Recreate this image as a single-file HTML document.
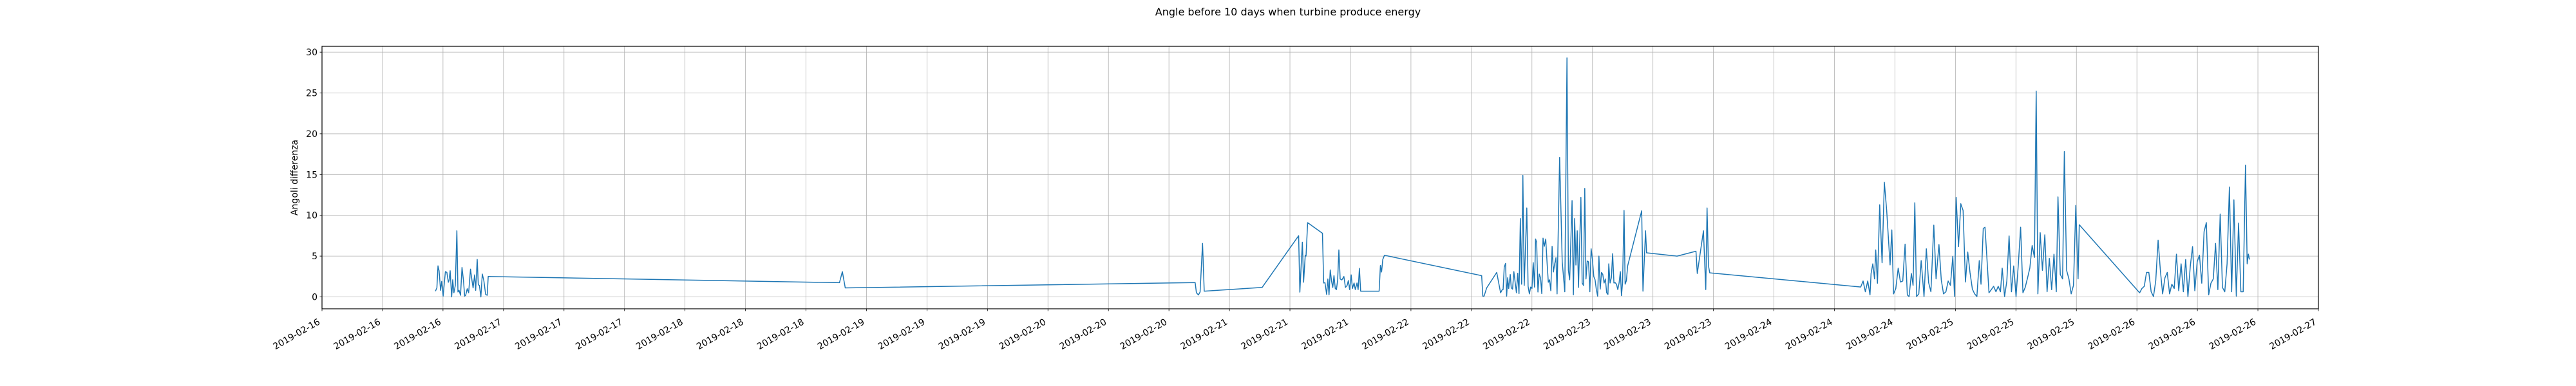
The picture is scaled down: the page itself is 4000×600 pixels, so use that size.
<!DOCTYPE html>
<html><head><meta charset="utf-8"><style>
html,body{margin:0;padding:0;background:#fff;}
svg{display:block;font-family:"DejaVu Sans","Liberation Sans",sans-serif;}
</style></head><body>
<svg id="chart" width="4000" height="600" viewBox="0 0 4000 600">
<rect width="4000" height="600" fill="#fff"/>
<text x="2000" y="24" text-anchor="middle" font-size="16" fill="#000">Angle before 10 days when turbine produce energy</text>
<g id="grid"></g>
<g id="series"></g>
<rect x="500" y="72" width="3100" height="408" fill="none" stroke="#000" stroke-width="1.2"/>
<g id="axes"></g>
<text transform="translate(462,276) rotate(-90)" text-anchor="middle" font-size="14" fill="#000">Angoli differenza</text>
</svg>
<script>
// hours since 2019-02-16 00:00
const hours = [15.0,15.19,15.34,15.48,15.68,15.83,16.02,16.32,16.51,16.71,16.80,16.95,17.14,17.29,17.44,17.63,17.83,17.98,18.12,18.32,18.51,18.71,18.86,19.00,19.20,19.39,19.64,19.83,19.98,20.18,20.32,20.52,20.67,20.81,21.01,21.20,21.40,21.64,21.84,21.98,
68.43,68.81,69.19,115.46,115.63,115.90,116.12,116.44,116.66,124.32,129.15,129.31,129.64,129.80,130.02,130.13,130.34,132.30,132.46,132.63,132.85,133.01,133.17,133.33,133.50,133.66,133.82,133.99,134.15,134.31,134.47,134.64,134.86,135.13,135.34,135.56,135.72,135.89,136.10,136.26,136.48,136.64,136.86,137.02,137.19,137.35,139.79,139.96,140.12,140.28,140.50,
153.35,153.50,153.67,154.01,155.34,155.85,156.08,156.19,156.34,156.51,156.65,156.79,156.93,157.13,157.27,157.44,157.61,157.78,157.95,158.12,158.29,158.47,158.64,158.80,158.98,159.32,159.49,159.66,159.83,160.00,160.17,160.34,160.48,160.62,160.79,160.96,161.13,161.30,161.47,161.64,161.82,161.99,162.16,162.33,162.50,162.67,162.84,163.01,163.18,163.32,163.66,164.00,164.34,164.63,164.82,164.99,165.31,165.48,165.65,165.82,165.99,166.16,166.47,166.64,166.81,166.98,167.15,167.32,167.49,167.66,167.83,168.00,168.18,168.35,168.52,168.69,168.86,169.03,169.20,169.37,169.54,169.71,169.88,170.05,170.16,170.33,170.50,170.67,170.84,171.01,171.18,171.35,171.52,171.69,171.84,171.98,172.18,172.32,172.49,172.66,174.51,174.68,175.02,175.16,179.19,181.69,181.86,182.68,182.99,183.16,183.34,183.51,
203.48,203.79,204.09,204.40,204.70,204.85,205.08,205.31,205.46,205.69,205.99,206.30,206.60,206.91,207.36,207.59,207.82,208.12,208.43,208.73,209.04,209.34,209.64,209.87,210.18,210.40,210.63,210.86,211.16,211.47,211.85,212.15,212.46,212.76,213.14,213.44,213.82,214.13,214.43,214.74,215.04,215.34,215.65,215.88,216.10,216.41,216.71,217.02,217.32,217.63,217.93,218.24,218.54,218.84,219.15,219.38,219.68,219.91,220.14,220.44,220.75,221.05,221.36,221.66,221.96,222.19,222.50,222.80,223.10,223.41,223.71,224.02,224.32,224.62,224.93,225.23,225.54,225.84,226.15,226.45,226.68,226.90,227.21,227.51,227.82,228.12,228.42,228.73,229.03,229.34,229.56,229.87,230.17,230.40,230.70,231.01,231.31,231.61,231.92,232.22,232.38,
240.36,240.67,240.97,241.27,241.58,241.88,242.19,242.49,242.80,243.10,243.40,243.71,244.01,244.32,244.62,244.93,245.23,245.53,245.84,246.14,246.45,246.75,247.06,247.36,247.66,247.97,248.27,248.58,248.88,249.18,249.49,249.79,250.10,250.40,250.71,251.01,251.31,251.62,251.92,252.23,252.53,252.83,253.14,253.44,253.75,254.05,254.36,254.58,254.74,254.89];
const angles = [0.7,1.1,3.8,3.2,0.8,1.9,0.1,3.1,3.0,1.8,2.0,3.2,0,2.1,0.5,1.4,8.1,0.6,0.8,0.2,3.6,2.0,0.1,0.2,1.0,0.5,3.4,2.0,1.1,2.7,0.8,4.6,1.5,1.4,0,2.8,2.0,0.3,0.2,2.5,
1.74,3.1,1.1,1.76,0.5,0.24,0.6,6.55,0.7,1.16,7.5,0.58,6.7,1.8,5.1,5.0,9.1,7.8,1.7,1.74,0.3,2.2,0.24,3.3,1.95,1.16,2.6,1.03,0.9,2.08,5.76,2.2,2.08,2.5,1.16,1.4,2.0,0.9,2.7,1.03,1.7,0.9,1.7,0.9,3.5,0.7,0.7,3.84,3.05,4.6,5.1,
2.6,0.1,0.1,1.1,3.0,0.5,0.9,0.9,3.66,4.1,0.1,2.34,1.03,2.74,1.1,0.95,3.1,1.8,0.5,2.9,0.4,9.6,1.55,14.9,1.4,10.9,1.3,0.37,1.2,1.03,4.2,1.2,7.1,6.7,0.6,2.8,2.34,0.4,7.2,6.2,7.1,4.3,1.8,2.1,0.76,6.2,3.05,4.05,4.8,0.37,17.1,4.3,0.63,29.3,3.26,2.1,11.8,0.24,9.6,3.9,8.1,1.16,12.2,1.7,1.4,13.3,2.2,4.4,4.3,0.63,5.9,4.6,2.5,2.1,0.9,0.1,5.0,0.95,3.0,2.74,1.7,2.2,0.5,0.3,4.05,1.7,2.34,5.3,1.7,1.74,1.55,0.9,1.7,3.1,0.16,1.7,10.6,1.55,2.0,3.8,10.55,0.7,8.1,5.4,5.0,5.6,2.87,8.1,0.9,10.9,3.8,2.95,
1.21,1.95,0.63,1.95,0.24,2.87,4.05,2.21,5.76,1.68,11.29,4.18,14.05,10.63,3.92,8.21,0.37,1.03,3.53,1.82,1.95,6.47,0.24,0.05,2.87,1.42,11.55,0.05,0.37,4.45,0.05,5.89,1.74,0.63,8.79,2.21,6.42,2.08,0.37,0.63,1.95,1.42,4.97,0.05,12.21,6.16,11.42,10.58,1.82,5.5,3.0,0.95,0.37,0.05,4.45,1.55,8.39,8.53,5.11,0.5,0.89,1.29,0.63,1.29,0.63,3.53,0.05,1.95,7.47,0.63,3.79,0.05,4.05,8.53,0.5,1.16,2.34,3.53,6.29,4.84,25.24,0.37,7.87,3.26,7.61,0.63,4.71,0.89,5.24,0.63,12.26,2.74,2.21,17.82,3.26,2.21,0.37,1.42,11.21,2.21,8.84,
0.5,1.03,1.29,3.0,3.0,0.63,0.05,1.95,6.95,3.26,0.37,2.34,3.0,0.37,1.55,1.03,5.24,0.76,4.05,0.63,4.58,0.05,3.79,6.16,0.76,4.32,5.11,1.68,8.0,9.11,0.24,1.68,2.21,6.55,0.89,10.16,1.16,0.63,4.05,13.47,0.63,11.89,0.1,9.05,0.63,0.63,16.16,4.05,5.24,4.58];
const yTicks = [0,5,10,15,20,25,30];
const xTickLabels = ["2019-02-16","2019-02-16","2019-02-16","2019-02-17","2019-02-17","2019-02-17","2019-02-18","2019-02-18","2019-02-18","2019-02-19","2019-02-19","2019-02-19","2019-02-20","2019-02-20","2019-02-20","2019-02-21","2019-02-21","2019-02-21","2019-02-22","2019-02-22","2019-02-22","2019-02-23","2019-02-23","2019-02-23","2019-02-24","2019-02-24","2019-02-24","2019-02-25","2019-02-25","2019-02-25","2019-02-26","2019-02-26","2019-02-26","2019-02-27"];
const xTickStepHours = 8;

const L=500,R=3600,T=72,B=480, X0=0,X1=264, Y0=-1.46,Y1=30.72;
const xs = h => L + (h-X0)/(X1-X0)*(R-L);
const ys = v => B - (v-Y0)/(Y1-Y0)*(B-T);
const NS="http://www.w3.org/2000/svg";
function mk(tag, attrs, parent){const e=document.createElementNS(NS,tag);for(const k in attrs)e.setAttribute(k,attrs[k]);parent.appendChild(e);return e;}
const grid=document.getElementById('grid'), axes=document.getElementById('axes'), series=document.getElementById('series');

yTicks.forEach(v=>{
  const y=ys(v);
  const g=mk('line',{x1:L,x2:R,y1:y,y2:y,stroke:'#b0b0b0','stroke-width':0.8},grid);
  
  
  const t=mk('line',{x1:L-3.5,x2:L,y1:y,y2:y,stroke:'#000','stroke-width':0.8},axes);
  
  
  const lb=mk('text',{x:L-7,y:y+5,'text-anchor':'end','font-size':14,fill:'#000'},axes);
  lb.textContent=v;
  
  
});
xTickLabels.forEach((s,i)=>{
  const x=xs(i*xTickStepHours);
  const g=mk('line',{x1:x,x2:x,y1:T,y2:B,stroke:'#b0b0b0','stroke-width':0.8},grid);
  
  
  const t=mk('line',{x1:x,x2:x,y1:B,y2:B+3.5,stroke:'#000','stroke-width':0.8},axes);
  
  
  const lb=mk('text',{x:x-2,y:B+23,'text-anchor':'end','font-size':14,fill:'#000',transform:`rotate(-30 ${x-2} ${B+23})`},axes);
  lb.textContent=s;
  
  
});
const pts=hours.map((h,i)=>xs(h).toFixed(1)+','+ys(angles[i]).toFixed(1)).join(' ');
const pl=mk('polyline',{points:pts,fill:'none',stroke:'#1f77b4','stroke-width':1.5,'stroke-linejoin':'round'},series);


</script>
</body></html>
